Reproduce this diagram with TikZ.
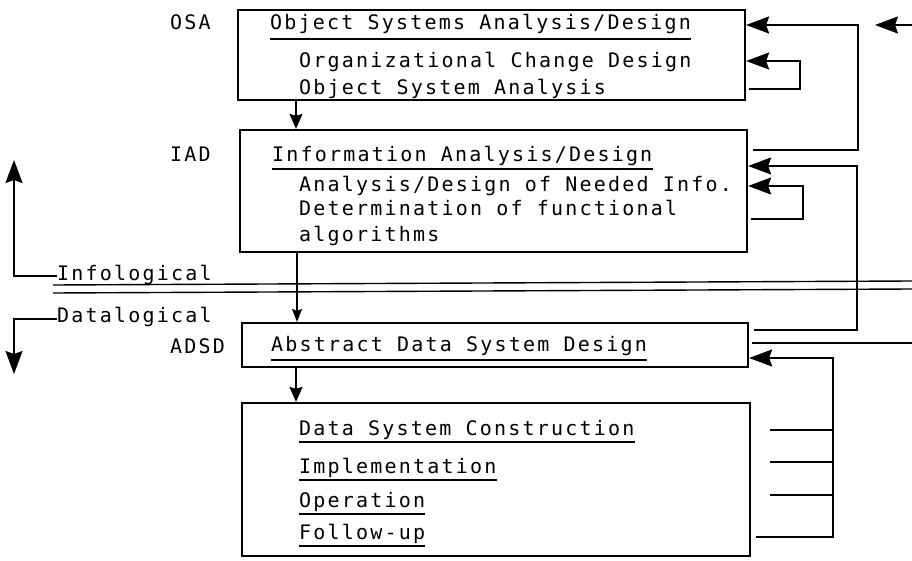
\documentclass[tikz,border=0pt]{standalone}
\usepackage{fontspec}
\usetikzlibrary{arrows.meta}
\newfontfamily\tw[LetterSpace=11]{DejaVu Sans Mono}
\tikzset{
  bigtip/.tip={Stealth[length=23pt,width=17pt,inset=3pt]},
  midtip/.tip={Stealth[length=15pt,width=13pt,inset=2pt]},
  smalltip/.tip={Stealth[length=13pt,width=10pt,inset=2pt]}
}
\begin{document}
\begin{tikzpicture}[x=1pt,y=-1pt,
  box/.style={draw,line width=2.2pt,inner sep=0pt},
  txt/.style={anchor=base west,inner sep=0pt,font=\tw\fontsize{20}{22}\selectfont},
  ul/.style={line width=1.4pt},
  conn/.style={line width=2pt},
  arr/.style={conn,-bigtip},
  sarr/.style={line width=2pt,-midtip},
  tarr/.style={line width=1.1pt,-smalltip}]
\useasboundingbox (0,0) rectangle (912,561);
% boxes
\node[box,minimum width=507pt,minimum height=90pt] (osa) at (491.5,55) {};
\node[box,minimum width=507pt,minimum height=122pt] (iad) at (493.5,191) {};
\node[box,minimum width=506pt,minimum height=44pt] (adsd) at (495,345) {};
\node[box,minimum width=508pt,minimum height=153pt] (dsc) at (496,479.5) {};
% labels
\node[txt] (lOSA) at (170,30) {OSA};
\node[txt] (lIAD) at (170,162) {IAD};
\node[txt] (lADSD) at (170,353) {ADSD};
% OSA texts
\node[txt] (t1) at (270,30) {Object Systems Analysis/Design};
\node[txt] (t2) at (299,68) {Organizational Change Design};
\node[txt] (t3) at (299,95) {Object System Analysis};
% IAD texts
\node[txt] (t4) at (272,162) {Information Analysis/Design};
\node[txt] (t5) at (299,192) {Analysis/Design of Needed Info.};
\node[txt] (t6) at (299,216) {Determination of functional};
\node[txt] (t7) at (299,241) {algorithms};
% ADSD text
\node[txt] (t8) at (271,351) {Abstract Data System Design};
% DSC texts
\node[txt] (t9) at (299,435) {Data System Construction};
\node[txt] (t10) at (299,473) {Implementation};
\node[txt] (t11) at (299,507) {Operation};
\node[txt] (t12) at (299,539) {Follow-up};
% infological / datalogical
\node[txt] (info) at (57,280) {Infological};
\node[txt] (data) at (57,322) {Datalogical};
% underlines
\foreach \n/\d in {t1/9,t4/7,t8/9,t9/7,t10/7,t11/7,t12/7}
  \draw[ul] ([yshift=-\d pt]\n.base west) -- ([yshift=-\d pt]\n.base east);
% double line
\coordinate (dl1a) at (53,285); \coordinate (dl1b) at (912,281);
\coordinate (dl2a) at (53,293); \coordinate (dl2b) at (912,289);
\draw[ul] (dl1a) -- (dl1b);
\draw[ul] (dl2a) -- (dl2b);
% up / down arrows
\coordinate (upTip) at (14,160);
\coordinate (downTip) at (14,374);
\draw[arr] ([yshift=-2pt]info.west) -| (upTip);
\draw[arr] ([yshift=-3pt]data.west) -| (downTip);
% vertical flow
\draw[sarr] (osa.south -| 296,0) -- (iad.north -| 296,0);
\draw[tarr] (iad.south -| 297,0) -- (adsd.north -| 297,0);
\draw[sarr] (adsd.south -| 296,0) -- (dsc.north -| 296,0);
% feedback loops
\draw[arr] ([xshift=5pt]iad.east |- 0,150) -- (858,150) |- (osa.east |- 0,25);
\draw[arr] ([xshift=3pt]osa.east |- 0,89) -- (800,89) |- (osa.east |- 0,61);
\draw[arr] ([xshift=5pt]adsd.east |- 0,330) -- (857,330) |- (iad.east |- 0,166);
\draw[arr] ([xshift=3pt]iad.east |- 0,219) -- (803,219) |- (iad.east |- 0,186);
\coordinate (outR) at (912,343);
\draw[conn] ([xshift=3pt]adsd.east |- 0,343) -- (outR);
\draw[arr] ([xshift=5pt]dsc.east |- 0,537) -- (833,537) |- (adsd.east |- 0,358);
% top right incoming
\coordinate (inR) at (912,25);
\coordinate (inTip) at (875,25);
\draw[arr] (inR) -- (inTip);
% short input lines
\foreach \y/\nm in {430/a,462/b,495/c}{
  \coordinate (s\nm1) at (770,\y); \coordinate (s\nm2) at (833,\y);
  \draw[conn] (s\nm1) -- (s\nm2);
}
\end{tikzpicture}
\end{document}
